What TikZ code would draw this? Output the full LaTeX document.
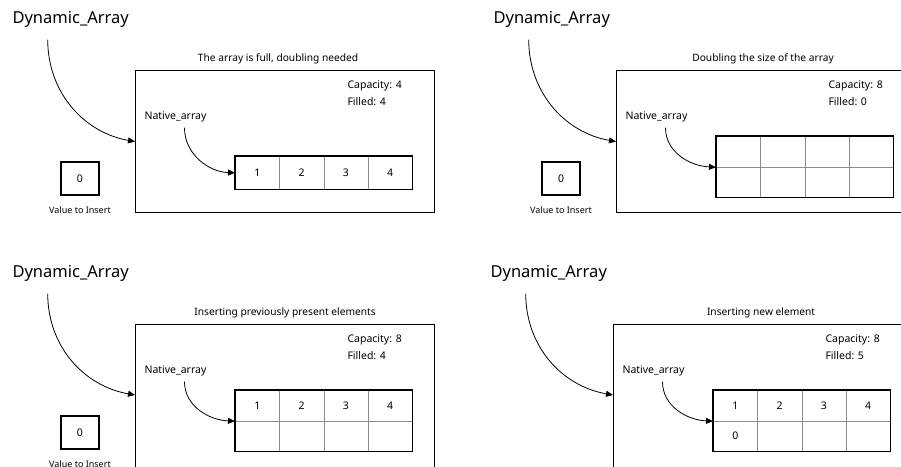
\documentclass[tikz,border=0pt]{standalone}
\usepackage{fontspec}
\setmainfont{Noto Sans}
\usetikzlibrary{positioning,arrows.meta}

\begin{document}
\begin{tikzpicture}[
  x=1pt, y=1pt,
  font=\fontsize{10.5}{12}\selectfont,
  frame/.style={draw, line width=1.1pt, minimum width=299pt, minimum height=142pt, inner sep=0pt, anchor=north west},
  cell/.style={draw=black!45, line width=0.6pt, minimum width=44.25pt, minimum height=33pt, inner sep=0pt, anchor=north west},
  half/.style={cell, minimum height=30.5pt},
  outline/.style={draw, line width=1.1pt},
  valbox/.style={draw, line width=1.1pt, minimum width=38pt, minimum height=33pt},
  big/.style={font=\fontsize{16.5}{19}\selectfont},
  small/.style={font=\fontsize{9}{11}\selectfont},
  head/.style={font=\fontsize{10.2}{12}\selectfont},
  info/.style={anchor=north west, align=left, font=\fontsize{10.5}{17}\selectfont},
  arr/.style={-{Triangle[length=7pt,width=6pt]}, line width=0.8pt}
]
\useasboundingbox (0,0) rectangle (901,-466);
\clip (0,0) rectangle (901,-466);

% array full
\begin{scope}[shift={(135,-70)}]
\node[frame] (a-box) at (0,0) {};
\node[head, above=3pt of a-box, xshift=-7pt] (a-title) {The array is full, doubling needed};
\node[big, anchor=west] (a-dyn) at (-126,51) {Dynamic\_Array};
\node[info] (a-info) at (209,-7) {Capacity: 4\\Filled: 4};
\node[anchor=west] (a-nat) at (6,-47) {Native\_array};
\foreach \v [count=\i] in {1,2,3,4}
  \node[cell] (a-c\i) at ({100+(\i-1)*44.25},-86) {\v};
\draw[outline] (a-c1.north west) rectangle (a-c4.south east);
\node[valbox] (a-val) at (-55,-108.5) {0};
\node[small, below=8pt of a-val] (a-lbl) {Value to Insert};
\draw[arr] ([xshift=-23pt,yshift=-9pt]a-dyn.south) to[out=-90,in=170] (a-box.west);
\draw[arr] ([xshift=9pt,yshift=-2pt]a-nat.south) to[out=-90,in=178] (a-c1.west);
\end{scope}

% doubling
\begin{scope}[shift={(616,-70)}]
\node[frame] (b-box) at (0,0) {};
\node[head, above=3pt of b-box, xshift=-3pt] (b-title) {Doubling the size of the array};
\node[big, anchor=west] (b-dyn) at (-126,51) {Dynamic\_Array};
\node[info] (b-info) at (209,-7) {Capacity: 8\\Filled: 0};
\node[anchor=west] (b-nat) at (6,-47) {Native\_array};
\foreach \i in {1,...,4} {
  \node[half] (b-t\i) at ({100+(\i-1)*44.25},-66) {};
  \node[half] (b-b\i) at ({100+(\i-1)*44.25},-96.5) {};
}
\draw[outline] (b-t1.north west) rectangle (b-b4.south east);
\node[valbox] (b-val) at (-55,-108.5) {0};
\node[small, below=8pt of b-val] (b-lbl) {Value to Insert};
\draw[arr] ([xshift=-23pt,yshift=-9pt]b-dyn.south) to[out=-90,in=170] (b-box.west);
\draw[arr] ([xshift=9pt,yshift=-2pt]b-nat.south) to[out=-90,in=178] (b-t1.south west);
\end{scope}

% copying old elements
\begin{scope}[shift={(135,-324)}]
\node[frame, minimum height=150pt] (c-box) at (0,0) {};
\node[head, above=3pt of c-box] (c-title) {Inserting previously present elements};
\node[big, anchor=west] (c-dyn) at (-126,51) {Dynamic\_Array};
\node[info] (c-info) at (209,-7) {Capacity: 8\\Filled: 4};
\node[anchor=west] (c-nat) at (6,-47) {Native\_array};
\foreach \v [count=\i] in {1,2,3,4} {
  \node[half] (c-t\i) at ({100+(\i-1)*44.25},-66) {\v};
  \node[half] (c-b\i) at ({100+(\i-1)*44.25},-96.5) {};
}
\draw[outline] (c-t1.north west) rectangle (c-b4.south east);
\node[valbox] (c-val) at (-55,-108.5) {0};
\node[small, below=8pt of c-val] (c-lbl) {Value to Insert};
\draw[arr] ([xshift=-23pt,yshift=-9pt]c-dyn.south) to[out=-90,in=170] (c-box.west |- 0,-71);
\draw[arr] ([xshift=9pt,yshift=-2pt]c-nat.south) to[out=-90,in=178] (c-t1.south west);
\end{scope}

% new element
\begin{scope}[shift={(613,-324)}]
\node[frame, minimum height=150pt] (d-box) at (0,0) {};
\node[head, above=3pt of d-box, xshift=-2pt] (d-title) {Inserting new element};
\node[big, anchor=west] (d-dyn) at (-126,51) {Dynamic\_Array};
\node[info] (d-info) at (209,-7) {Capacity: 8\\Filled: 5};
\node[anchor=west] (d-nat) at (6,-47) {Native\_array};
\foreach \v/\w [count=\i] in {1/0,2/{},3/{},4/{}} {
  \node[half] (d-t\i) at ({100+(\i-1)*44.25},-66) {\v};
  \node[half] (d-b\i) at ({100+(\i-1)*44.25},-96.5) {\w};
}
\draw[outline] (d-t1.north west) rectangle (d-b4.south east);
\draw[arr] ([xshift=-23pt,yshift=-9pt]d-dyn.south) to[out=-90,in=170] (d-box.west |- 0,-71);
\draw[arr] ([xshift=9pt,yshift=-2pt]d-nat.south) to[out=-90,in=178] (d-t1.south west);
\end{scope}
\end{tikzpicture}
\end{document}
